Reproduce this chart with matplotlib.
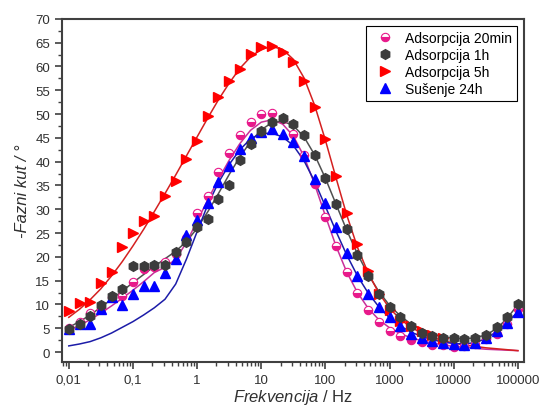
import numpy as np
import matplotlib
matplotlib.use("Agg")
import matplotlib.pyplot as plt
import matplotlib.ticker as ticker

plt.rcParams['font.family'] = ['Liberation Sans', 'DejaVu Sans']
plt.rcParams['mathtext.fontset'] = 'custom'
plt.rcParams['mathtext.it'] = 'Liberation Sans:italic'
plt.rcParams['mathtext.rm'] = 'Liberation Sans'

# measurement frequencies, Hz (6 points per decade)
freq = [0.01, 0.0147, 0.0215, 0.0316, 0.0464, 0.0681,
        0.1, 0.147, 0.215, 0.316, 0.464, 0.681,
        1, 1.47, 2.15, 3.16, 4.64, 6.81,
        10, 14.7, 21.5, 31.6, 46.4, 68.1,
        100, 147, 215, 316, 464, 681,
        1000, 1470, 2150, 3160, 4640, 6810,
        10000, 14700, 21500, 31600, 46400, 68100,
        100000]

# measured phase angle, degrees
ads_20min = [5.0, 6.3, 8.3, 9.0, 11.6, 11.7, 14.8, 17.5, 17.8, 19.0, 20.5, 24.0,
             29.2, 32.8, 37.9, 41.8, 45.6, 48.3, 50.0, 50.2, 49.0, 45.9, 41.5, 35.3,
             28.4, 22.3, 16.9, 12.4, 8.9, 6.4, 4.5, 3.3, 2.6, 2.2, 1.5, 1.5,
             1.0, 1.3, 1.8, 2.7, 3.9, 6.0, 9.0]
ads_1h = [4.8, 6.0, 7.6, 9.9, 11.8, 13.2, 18.0, 18.0, 18.3, 18.3, 21.1, 23.1,
          26.2, 27.9, 32.1, 35.1, 40.3, 43.7, 46.5, 48.3, 49.1, 47.9, 45.6, 41.4,
          36.6, 31.1, 25.8, 20.4, 15.9, 12.2, 9.4, 7.3, 5.5, 4.0, 3.3, 2.9,
          2.9, 2.7, 2.9, 3.6, 5.2, 7.3, 10.1]
ads_5h = [8.7, 10.3, 10.6, 14.5, 16.9, 22.0, 25.0, 27.6, 28.6, 32.8, 36.0, 40.5,
          44.4, 49.7, 53.5, 57.0, 59.5, 62.6, 64.0, 64.3, 63.0, 61.0, 57.0, 51.4,
          44.7, 37.0, 29.3, 22.7, 17.1, 12.3, 8.8, 6.6, 5.5, 4.5, 3.6, 3.0]
suse_24h = [4.8, 6.0, 5.8, 9.1, 11.5, 9.8, 12.1, 13.9, 13.8, 16.7, 19.6, 24.6,
            27.8, 31.3, 35.8, 39.1, 42.6, 44.9, 46.3, 46.8, 45.9, 44.1, 41.1, 36.3,
            31.3, 26.3, 20.9, 16.0, 12.2, 9.5, 7.3, 5.4, 3.8, 3.0, 2.4, 2.0,
            1.8, 1.5, 2.0, 3.0, 4.5, 6.2, 8.5]

# fitted curves at the same frequencies
fit_20min = [4.6, 5.6, 6.8, 8.2, 9.7, 11.3, 13.0, 14.8, 16.7, 17.8, 19.5, 23.0,
             27.5, 32.0, 36.3, 40.3, 43.8, 46.6, 48.3, 48.8, 47.9, 45.4, 41.1, 35.2,
             28.6, 22.2, 16.8, 12.5, 9.2, 6.8, 5.1, 3.9, 3.0, 2.4, 1.9, 1.5,
             1.2, 1.0, 0.8, 0.6, 0.5, 0.4, 0.3]
fit_1h = [5.2, 6.4, 7.8, 9.4, 11.1, 12.8, 14.6, 16.3, 18.0, 19.6, 21.2, 23.2,
          26.0, 29.5, 33.3, 37.3, 41.0, 44.2, 46.7, 48.2, 48.5, 47.6, 45.2, 41.4,
          36.5, 31.0, 25.6, 20.6, 16.3, 12.7, 9.8, 7.6, 5.9, 4.7, 3.8, 3.2,
          2.9, 2.8, 3.0, 3.6, 4.9, 7.1, 10.0]
fit_5h = [7.3, 9.0, 11.0, 13.3, 16.0, 19.0, 22.3, 25.8, 29.5, 33.3, 37.2, 41.2,
          45.2, 49.2, 53.0, 56.5, 59.6, 62.0, 63.6, 64.2, 63.6, 61.5, 57.6, 51.8,
          44.5, 36.5, 28.8, 22.0, 16.6, 12.4, 9.2, 6.9, 5.2, 4.0, 3.1, 2.4,
          1.9, 1.5, 1.2, 0.9, 0.7, 0.5, 0.3]
fit_24h = [1.3, 1.7, 2.2, 3.0, 4.0, 5.2, 6.4, 7.8, 9.3, 11.1, 14.3, 19.5,
           25.3, 31.0, 35.6, 39.4, 42.5, 44.8, 45.9, 46.0, 45.2, 43.4, 40.2, 35.8,
           30.6, 25.3, 20.4, 16.0, 12.4, 9.5, 7.2, 5.5, 4.2, 3.3, 2.6, 2.1,
           1.8, 1.7, 2.0, 2.8, 4.3, 6.2, 8.5]

xtick_vals = [0.01, 0.1, 1, 10, 100, 1000, 10000, 100000]
xtick_text = ['0,01', '0,1', '1', '10', '100', '1000', '10000', '100000']

fig = plt.figure(figsize=(5.42, 4.14), dpi=100)
ax = fig.add_axes([0.114, 0.123, 0.853, 0.829])

ax.plot(freq, fit_20min, color='#c8309a', lw=1.1, zorder=2)
ax.plot(freq, fit_1h, color='#505050', lw=1.1, zorder=2)
ax.plot(freq, fit_5h, color='#d42020', lw=1.1, zorder=2)
ax.plot(freq, fit_24h, color='#1c1ca8', lw=1.1, zorder=2)

ax.plot(freq[:len(ads_20min)], ads_20min, ls='none', marker='o', ms=6,
        color='#e8198b', mec='#e8198b', fillstyle='bottom',
        markerfacecoloralt='white', mew=0.8, label='Adsorpcija 20min', zorder=3)
ax.plot(freq[:len(ads_1h)], ads_1h, ls='none', marker='h', ms=7,
        color='#3c3c3c', mec='#3c3c3c', label='Adsorpcija 1h', zorder=4)
ax.plot(freq[:len(ads_5h)], ads_5h, ls='none', marker='>', ms=6.5,
        color='#ff0000', mec='#ff0000', label='Adsorpcija 5h', zorder=3)
ax.plot(freq[:len(suse_24h)], suse_24h, ls='none', marker='^', ms=6.5,
        color='#0000ff', mec='#0000ff', label='Sušenje 24h', zorder=3)

ax.set_xscale('log')
ax.set_xlim(0.00778, 125000)
ax.set_ylim(-2.1, 70)
ax.set_xticks(xtick_vals)
ax.set_xticklabels(xtick_text)
ax.xaxis.set_minor_locator(ticker.LogLocator(base=10, subs=np.arange(2, 10)))
ax.xaxis.set_minor_formatter(ticker.NullFormatter())
ax.yaxis.set_major_locator(ticker.MultipleLocator(5))
ax.yaxis.set_minor_locator(ticker.MultipleLocator(2.5))

for sp in ax.spines.values():
    sp.set_color('#404040')
    sp.set_linewidth(1.5)
ax.tick_params(which='both', direction='out', top=False, right=False,
               color='#404040', labelcolor='#303030', labelsize=9.5)
ax.tick_params(which='major', length=5, width=1.2)
ax.tick_params(which='minor', length=3, width=1.0)

ax.set_xlabel(r'$\mathit{Frekvencija\ /}$ Hz', fontsize=12, color='#303030',
              labelpad=1)
ax.set_ylabel('-Fazni kut / °', fontsize=12, style='italic', color='#303030')

leg = ax.legend(loc='upper right', fontsize=10, frameon=True, fancybox=False,
                edgecolor='black', framealpha=1, handletextpad=0.45,
                borderpad=0.35, labelspacing=0.22, handlelength=2.0,
                borderaxespad=0.5)
leg.get_frame().set_linewidth(0.8)

fig.savefig('out.png', dpi=100)
